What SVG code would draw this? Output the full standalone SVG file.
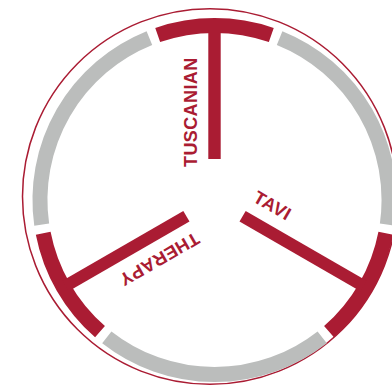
<svg xmlns="http://www.w3.org/2000/svg" width="392" height="390" viewBox="0 0 392 390">
<style>
.red{fill:none;stroke:#AA1C33;stroke-width:15}
.grey{fill:none;stroke:#BBBDBC;stroke-width:15}
.spoke{stroke:#AA1C33;stroke-width:12.4;stroke-linecap:butt}
.lbl{font-family:"Liberation Sans",Arial,sans-serif;font-weight:bold;font-size:18px;letter-spacing:0.4px;fill:#AA1C33}
</style>
<rect width="392" height="390" fill="#fff"/>
<g id="frame">
<ellipse cx="210" cy="196.5" rx="187.5" ry="187.8" fill="none" stroke="#AA1C33" stroke-width="1.5"/>
</g>
<g id="ring">
<path class="red" d="M157.7,35 A174.5,174.5 0 0 1 271.3,35"/>
<path class="grey" d="M279.6,38.1 A174.5,174.5 0 0 1 387.3,224.6"/>
<path class="red" d="M385.8,233.3 A174.5,174.5 0 0 1 329,331.7"/>
<path class="grey" d="M322.2,337.3 A174.5,174.5 0 0 1 106.8,337.3"/>
<path class="red" d="M100,331.7 A174.5,174.5 0 0 1 43.2,233.3"/>
<path class="grey" d="M41.7,224.6 A174.5,174.5 0 0 1 149.4,38.1"/>
</g>
<g id="connectors">
<line class="spoke" x1="214.5" y1="159" x2="214.5" y2="30"/>
<line class="spoke" x1="242.6" y1="216.25" x2="363.5" y2="286"/>
<line class="spoke" x1="186.4" y1="216.25" x2="65.5" y2="286"/>
</g>
<g id="tuscanian">
<text class="lbl" x="247.5" y="182.5" transform="rotate(-90 214.5 200)">TUSCANIAN</text>
</g>
<g id="tavi">
<text class="lbl" x="247.5" y="182" transform="rotate(30 214.5 200)">TAVI</text>
</g>
<g id="therapy">
<text class="lbl" x="247.5" y="182.5" transform="rotate(150 214.5 200)">THERAPY</text>
</g>
</svg>
